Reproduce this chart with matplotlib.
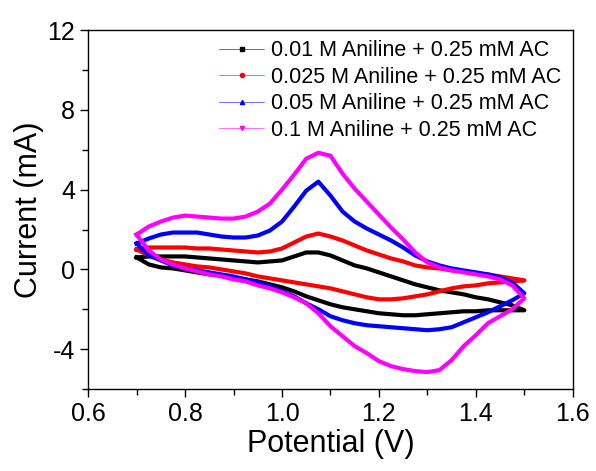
import matplotlib
matplotlib.use('Agg')
import matplotlib.pyplot as plt
from matplotlib.lines import Line2D
from matplotlib.ticker import MultipleLocator, FormatStrFormatter

plt.rcParams['font.family'] = ['Liberation Sans', 'DejaVu Sans']
plt.rcParams['axes.unicode_minus'] = False

# potential grid (V), shared by all sweeps
potential = [0.700, 0.725, 0.750, 0.775, 0.800, 0.825, 0.850, 0.875, 0.900, 0.925, 0.950,
             0.975, 1.000, 1.025, 1.050, 1.075, 1.100, 1.125, 1.150, 1.175, 1.200, 1.225,
             1.250, 1.275, 1.300, 1.325, 1.350, 1.375, 1.400, 1.425, 1.450, 1.475, 1.500]

labels = ['0.01 M Aniline + 0.25 mM AC', '0.025 M Aniline + 0.25 mM AC',
          '0.05 M Aniline + 0.25 mM AC', '0.1 M Aniline + 0.25 mM AC']
colors = ['black', 'red', 'blue', 'magenta']
markers = ['s', 'o', '^', 'v']

# forward (upper) branch, mA
fwd_001 = [0.60, 0.65, 0.65, 0.65, 0.65, 0.60, 0.55, 0.50, 0.45, 0.40, 0.35,
           0.40, 0.45, 0.65, 0.85, 0.85, 0.70, 0.45, 0.20, 0.05, -0.15, -0.35,
           -0.55, -0.75, -0.90, -1.05, -1.15, -1.25, -1.40, -1.50, -1.65, -1.80, -2.05]
fwd_0025 = [1.00, 1.10, 1.10, 1.10, 1.10, 1.05, 1.05, 1.00, 0.95, 0.90, 0.85,
            0.90, 1.05, 1.35, 1.65, 1.80, 1.65, 1.45, 1.20, 0.95, 0.75, 0.55,
            0.40, 0.20, 0.10, 0.05, -0.05, -0.10, -0.20, -0.25, -0.35, -0.45, -0.55]
fwd_005 = [1.30, 1.55, 1.75, 1.85, 1.85, 1.85, 1.75, 1.65, 1.60, 1.60, 1.70,
           1.95, 2.40, 3.15, 3.95, 4.40, 3.70, 2.90, 2.40, 2.05, 1.75, 1.45,
           1.10, 0.70, 0.40, 0.20, 0.05, -0.05, -0.15, -0.25, -0.40, -0.65, -1.20]
fwd_01 = [1.75, 2.15, 2.40, 2.60, 2.70, 2.65, 2.60, 2.55, 2.55, 2.65, 2.90,
          3.30, 4.00, 4.75, 5.55, 5.85, 5.70, 4.80, 4.05, 3.40, 2.75, 2.10,
          1.50, 0.85, 0.35, 0.10, -0.05, -0.15, -0.25, -0.35, -0.50, -0.80, -1.45]

# reverse (lower) branch, mA, listed with increasing potential
rev_001 = [0.60, 0.25, 0.10, 0.05, -0.05, -0.15, -0.25, -0.30, -0.40, -0.50, -0.60,
           -0.75, -0.90, -1.10, -1.35, -1.55, -1.75, -1.90, -2.00, -2.10, -2.20, -2.25,
           -2.30, -2.30, -2.25, -2.20, -2.15, -2.10, -2.10, -2.05, -2.05, -2.05, -2.05]
rev_0025 = [1.00, 0.70, 0.50, 0.35, 0.25, 0.15, 0.10, 0.00, -0.10, -0.20, -0.35,
            -0.45, -0.55, -0.65, -0.75, -0.85, -0.95, -1.10, -1.25, -1.40, -1.50, -1.50,
            -1.45, -1.35, -1.25, -1.10, -0.95, -0.85, -0.80, -0.70, -0.65, -0.60, -0.55]
rev_005 = [1.30, 0.70, 0.45, 0.20, 0.05, -0.05, -0.15, -0.25, -0.35, -0.50, -0.65,
           -0.85, -1.10, -1.35, -1.70, -2.00, -2.35, -2.55, -2.70, -2.80, -2.85, -2.90,
           -2.95, -3.00, -3.05, -3.00, -2.90, -2.65, -2.40, -2.15, -1.85, -1.55, -1.20]
rev_01 = [1.75, 0.95, 0.50, 0.25, 0.05, -0.10, -0.25, -0.35, -0.50, -0.60, -0.80,
          -0.95, -1.15, -1.40, -1.70, -2.20, -2.85, -3.35, -3.85, -4.20, -4.60, -4.85,
          -5.00, -5.10, -5.15, -5.05, -4.55, -3.85, -3.30, -2.70, -2.35, -2.00, -1.45]

forward = [fwd_001, fwd_0025, fwd_005, fwd_01]
reverse = [rev_001, rev_0025, rev_005, rev_01]

fig = plt.figure(figsize=(5.96, 4.71), dpi=100)
ax = fig.add_axes([0.148, 0.174, 0.813, 0.762])

for fw, rv, c in zip(forward, reverse, colors):
    x = potential + potential[::-1]
    y = fw + rv[::-1]
    ax.plot(x, y, color=c, lw=3, solid_joinstyle='round')

ax.set_xlim(0.6, 1.6)
ax.set_ylim(-6, 12)
ax.xaxis.set_major_locator(MultipleLocator(0.2))
ax.xaxis.set_minor_locator(MultipleLocator(0.1))
ax.yaxis.set_major_locator(MultipleLocator(4))
ax.yaxis.set_minor_locator(MultipleLocator(2))
ax.xaxis.set_major_formatter(FormatStrFormatter('%.1f'))
ax.tick_params(which='both', direction='out', top=False, right=False, labelsize=18, width=1)
ax.tick_params(which='major', length=6)
ax.tick_params(which='minor', length=4)
for s in ax.spines.values():
    s.set_linewidth(1)

ax.set_xlabel('Potential (V)', fontsize=22, labelpad=2)
ax.set_ylabel('Current (mA)', fontsize=22, labelpad=2)

handles = [Line2D([], [], color=c, lw=0.4, marker=m, ms=3) for c, m in zip(colors, markers)]
ax.legend(handles, labels, loc='upper left', bbox_to_anchor=(0.27, 0.972), frameon=False,
          fontsize=15.5, numpoints=1, handlelength=2.1, handletextpad=0.3,
          labelspacing=0.26, borderpad=0, borderaxespad=0)

fig.savefig('out.png', dpi=100)
